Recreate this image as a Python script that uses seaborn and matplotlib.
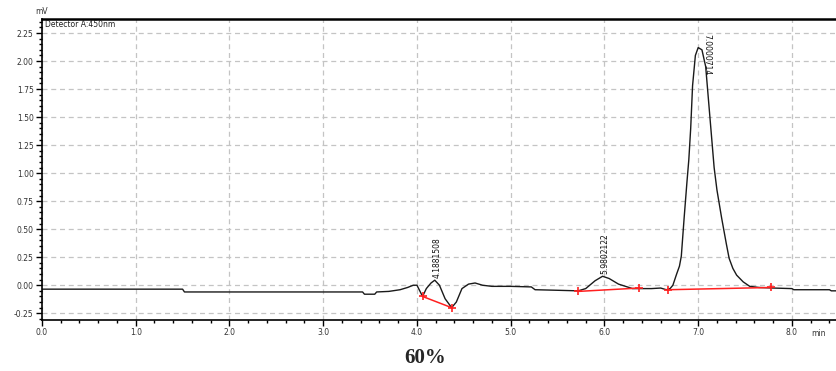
import numpy as np
import pandas as pd
import matplotlib
matplotlib.use("Agg")
import matplotlib.pyplot as plt
from matplotlib.ticker import MultipleLocator
import seaborn as sns

# Chromatogram trace (time in min, signal in mV)
time_min = [0.00, 1.50, 1.52, 3.42, 3.44, 3.55, 3.57, 3.70, 3.82, 3.90, 3.96, 4.00,
            4.03, 4.06, 4.10, 4.15, 4.19, 4.24, 4.30, 4.37, 4.42, 4.48, 4.55, 4.62,
            4.70, 4.80, 5.00, 5.22, 5.26, 5.50, 5.72, 5.80, 5.90, 5.98, 6.05, 6.15,
            6.30, 6.38, 6.50, 6.60, 6.66, 6.70, 6.73, 6.77, 6.80, 6.82, 6.85, 6.88,
            6.90, 6.92, 6.94, 6.97, 7.00, 7.04, 7.08, 7.10, 7.13, 7.15, 7.17, 7.20,
            7.25, 7.30, 7.33, 7.37, 7.41, 7.48, 7.55, 7.65, 7.80, 8.00, 8.02, 8.40,
            8.42, 8.50]
signal_mv = [-0.035, -0.035, -0.06, -0.06, -0.08, -0.08, -0.06, -0.055, -0.04, -0.02, 0.00, 0.00,
             -0.05, -0.10, -0.03, 0.02, 0.045, 0.00, -0.12, -0.20, -0.15, -0.03, 0.01, 0.02,
             0.00, -0.01, -0.01, -0.015, -0.04, -0.045, -0.05, -0.03, 0.04, 0.08, 0.06, 0.01,
             -0.03, -0.03, -0.03, -0.025, -0.04, -0.03, 0.00, 0.10, 0.17, 0.26, 0.60, 0.92,
             1.12, 1.40, 1.78, 2.05, 2.12, 2.10, 1.95, 1.75, 1.45, 1.25, 1.05, 0.85,
             0.60, 0.37, 0.24, 0.15, 0.09, 0.03, -0.01, -0.02, -0.025, -0.03, -0.04, -0.04,
             -0.05, -0.05]

# Integration baselines (start/end of each peak)
base_t0 = [4.06, 5.72, 6.68]
base_y0 = [-0.10, -0.055, -0.04]
base_t1 = [4.37, 6.37, 7.78]
base_y1 = [-0.20, -0.025, -0.02]

# Peak labels
peak_t = [4.19, 5.98, 7.00]
peak_y = [0.045, 0.08, 2.12]
peak_labels = ["4.1881508", "5.9802122", "7.0000714"]

x_ticks = [0.0, 1.0, 2.0, 3.0, 4.0, 5.0, 6.0, 7.0, 8.0]
y_ticks = [-0.25, 0.00, 0.25, 0.50, 0.75, 1.00, 1.25, 1.50, 1.75, 2.00, 2.25]

sns.set_theme(style="ticks")
plt.rcParams['font.family'] = ['DejaVu Sans']

fig = plt.figure(figsize=(8.36, 3.71), dpi=100)
ax = fig.add_axes([0.0502, 0.1375, 0.9498, 0.8113])

df = pd.DataFrame({"t": time_min, "mv": signal_mv})
sns.lineplot(data=df, x="t", y="mv", ax=ax, color="#1a1a1a", linewidth=1.0,
             sort=False, estimator=None)

for t0, y0, t1, y1 in zip(base_t0, base_y0, base_t1, base_y1):
    ax.plot([t0, t1], [y0, y1], color="#ff2020", linewidth=1.1)
    ax.plot([t0, t1], [y0, y1], linestyle="none", marker="+", color="#ff2020",
            markersize=6, markeredgewidth=1.2)

for i, (t, y, lab) in enumerate(zip(peak_t, peak_y, peak_labels)):
    if i < 2:
        ax.text(t + 0.02, y + 0.02, lab, rotation=90, ha="center", va="bottom",
                fontsize=5.5, color="#111111")
    else:
        ax.text(t + 0.09, 2.24, lab, rotation=270, ha="center", va="top",
                fontsize=5.5, color="#111111")

ax.set_xlim(0, 8.47)
ax.set_ylim(-0.31, 2.375)
ax.set_xticks(x_ticks)
ax.set_xticklabels([f"{v:.1f}" for v in x_ticks])
ax.set_yticks(y_ticks)
ax.set_yticklabels([f"{v:.2f}" for v in y_ticks])
ax.xaxis.set_minor_locator(MultipleLocator(0.2))
ax.yaxis.set_minor_locator(MultipleLocator(0.05))
ax.tick_params(axis="both", which="major", direction="out", length=4, width=1,
               labelsize=5.5, labelcolor="#333333", color="black", pad=2)
ax.tick_params(axis="both", which="minor", direction="out", length=2.5, width=1,
               color="black")
ax.tick_params(which="both", left=True, bottom=True, top=False, right=False)
ax.grid(True, which="major", linestyle=(0, (4, 3)), color="#c4c4c4", linewidth=0.9)
ax.set_axisbelow(True)
for s in ["left", "bottom"]:
    ax.spines[s].set_visible(True)
    ax.spines[s].set_color("black")
    ax.spines[s].set_linewidth(1.2)
ax.spines["top"].set_visible(True)
ax.spines["top"].set_color("black")
ax.spines["top"].set_linewidth(1.8)
ax.spines["right"].set_visible(False)
ax.set_xlabel("")
ax.set_ylabel("")

ax.text(0.004, 0.998, "Detector A:450nm", transform=ax.transAxes, ha="left", va="top",
        fontsize=5.5, color="#222222")
fig.text(35 / 836, 1 - 12 / 371, "mV", ha="left", va="center", fontsize=5.5, color="#333333")
fig.text(1 - 10 / 836, 1 - 333 / 371, "min", ha="right", va="center", fontsize=5.5, color="#333333")
fig.text(425 / 836, 1 - 358 / 371, "60%", ha="center", va="center", fontsize=15,
         fontweight="bold", family=["Liberation Serif"])

fig.savefig("out.png", dpi=100)
